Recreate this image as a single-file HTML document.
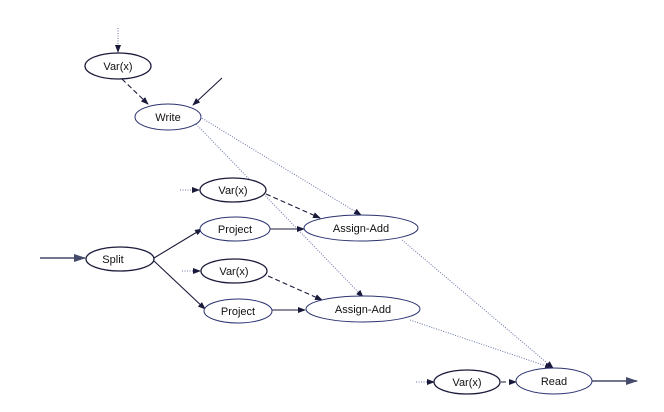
<!DOCTYPE html>
<html><head><style>body{margin:0;background:#fff}svg{display:block}text{font-family:"Liberation Sans",sans-serif;font-size:11px;fill:#111;text-anchor:middle}</style></head><body>
<svg width="664" height="412" viewBox="0 0 664 412">
<defs>
<marker id="a" markerWidth="8" markerHeight="6" refX="7" refY="3" orient="auto" markerUnits="userSpaceOnUse"><path d="M0,0L8,3L0,6z" fill="#1a1a3a"/></marker>
<marker id="b" markerWidth="12" markerHeight="8" refX="11" refY="4" orient="auto" markerUnits="userSpaceOnUse"><path d="M0,0L12,4L0,8z" fill="#444a6a"/></marker>
</defs>
<g fill="none">
<g stroke="#6a74a8" stroke-width="1" stroke-dasharray="1,1.5">
<line x1="118" y1="28" x2="118" y2="52" marker-end="url(#a)"/>
<line x1="180" y1="190" x2="199" y2="190" marker-end="url(#a)"/>
<line x1="182" y1="271" x2="200" y2="271" marker-end="url(#a)"/>
<line x1="416" y1="382" x2="434" y2="382" marker-end="url(#a)"/>
<line x1="200" y1="117" x2="361" y2="215" marker-end="url(#a)"/>
<line x1="196" y1="124" x2="363" y2="297" marker-end="url(#a)"/>
<line x1="402" y1="240" x2="553" y2="368" marker-end="url(#a)"/>
<line x1="410" y1="320" x2="552" y2="368" marker-end="url(#a)"/>
</g>
<g stroke="#1a1a3a" stroke-width="1.1" stroke-dasharray="5,3">
<line x1="122" y1="79" x2="148" y2="104" marker-end="url(#a)"/>
<line x1="266" y1="194" x2="320" y2="218" marker-end="url(#a)"/>
<line x1="268" y1="276" x2="322" y2="300" marker-end="url(#a)"/>
<line x1="501" y1="382" x2="516" y2="382" marker-end="url(#a)"/>
</g>
<g stroke="#1a1a3a" stroke-width="1.1">
<line x1="222" y1="78" x2="193" y2="105" marker-end="url(#a)"/>
<line x1="154" y1="258" x2="202" y2="229" marker-end="url(#a)"/>
<line x1="154" y1="261" x2="205" y2="309" marker-end="url(#a)"/>
<line x1="270" y1="229" x2="304" y2="229" marker-end="url(#a)"/>
<line x1="272" y1="310" x2="305" y2="310" marker-end="url(#a)"/>
</g>
<line x1="40" y1="258" x2="85" y2="258" stroke="#444a6a" stroke-width="1.5" marker-end="url(#b)"/>
<line x1="591" y1="381" x2="637" y2="381" stroke="#444a6a" stroke-width="1.5" marker-end="url(#b)"/>
<g stroke="#1a1a3a" fill="#fff">
<ellipse cx="118" cy="66" rx="33" ry="13" stroke-width="1.3"/>
<ellipse cx="168" cy="117" rx="33" ry="13" stroke="#2a3270"/>
<ellipse cx="233" cy="190" rx="33" ry="12" stroke-width="1.3"/>
<ellipse cx="235" cy="229" rx="35" ry="12" stroke="#2a3270"/>
<ellipse cx="361" cy="228" rx="57" ry="13" stroke="#2a3270"/>
<ellipse cx="120" cy="259" rx="34" ry="12" stroke-width="1.3"/>
<ellipse cx="234" cy="271" rx="33" ry="12" stroke-width="1.3"/>
<ellipse cx="238" cy="311" rx="34" ry="12" stroke="#2a3270"/>
<ellipse cx="363" cy="309" rx="57" ry="13" stroke="#2a3270"/>
<ellipse cx="467" cy="382" rx="33" ry="12" stroke-width="1.3"/>
<ellipse cx="554" cy="381" rx="38" ry="13" stroke="#2a3270"/>
</g>
</g>
<text x="118" y="70">Var(x)</text>
<text x="168" y="121">Write</text>
<text x="233" y="194">Var(x)</text>
<text x="235" y="233">Project</text>
<text x="361" y="232">Assign-Add</text>
<text x="113" y="263">Split</text>
<text x="234" y="275">Var(x)</text>
<text x="238" y="315">Project</text>
<text x="363" y="313">Assign-Add</text>
<text x="467" y="386">Var(x)</text>
<text x="554" y="385">Read</text>
</svg>
</body></html>
